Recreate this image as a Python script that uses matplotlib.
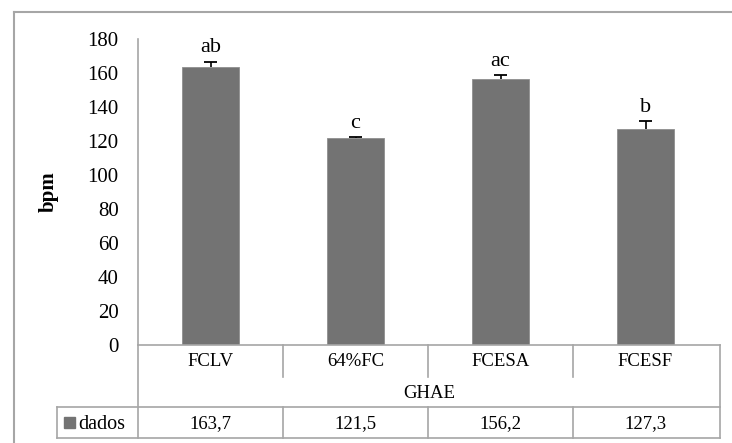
"""Heart rate (bpm) per GHAE condition, bar chart with data table below."""

import matplotlib
matplotlib.use("Agg")
import matplotlib.pyplot as plt
import matplotlib.transforms as mtransforms
from matplotlib.lines import Line2D
from matplotlib.patches import Rectangle

categories = ["FCLV", "64%FC", "FCESA", "FCESF"]
values = [163.7, 121.5, 156.2, 127.3]
errors = [3.0, 1.0, 2.5, 4.3]
letters = ["ab", "c", "ac", "b"]
value_labels = ["163,7", "121,5", "156,2", "127,3"]
group_label = "GHAE"
series_name = "dados"
yticks = list(range(0, 181, 20))

W, H = 732, 443
BAR = "#737373"
GRID = "#a6a6a6"
SERIF = ["Liberation Serif", "DejaVu Serif"]

plt.rcParams["font.family"] = SERIF

fig = plt.figure(figsize=(W / 100, H / 100), dpi=100)


def fx(px):
    return px / W


def fy(py):
    return 1 - py / H


# plot area in pixels: x 138..718, y 39 (180) .. 345 (0)
left, right, top, bottom = 138, 718, 39, 345
ax = fig.add_axes([fx(left), fy(bottom), fx(right - left), (bottom - top) / H])

n = len(categories)
xs = [i + 0.5 for i in range(n)]
ax.bar(xs, values, width=0.39, color=BAR, edgecolor="#8f8f8f", linewidth=0.6, zorder=2)

# upper-only error bars (stem + cap)
tops = [v + e for v, e in zip(values, errors)]
ax.vlines(xs, values, tops, color="black", lw=1.2, zorder=3)
ax.hlines(tops, [x - 0.042 for x in xs], [x + 0.042 for x in xs], color="black", lw=1.3, zorder=3)
for x, t, lab in zip(xs, tops, letters):
    ax.annotate(lab, (x, t), xytext=(0, 3), textcoords="offset points",
                ha="center", va="bottom", fontsize=16, family=SERIF)

ax.set_xlim(0, n)
ax.set_ylim(0, 180)
ax.set_yticks(yticks)
ax.tick_params(axis="y", length=0, pad=14, labelsize=15)
ax.set_xticks([])
for side in ("top", "right", "bottom"):
    ax.spines[side].set_visible(False)
ax.spines["left"].set_color(GRID)
ax.spines["left"].set_linewidth(1.2)
ax.set_ylabel("bpm", fontsize=15, fontweight="bold")
ax.yaxis.set_label_coords((59 - left) / (right - left), 0.5)

# table below the axes: x in data units, y in figure fraction
tr = mtransforms.blended_transform_factory(ax.transData, fig.transFigure)
tbl_right = n + 2 / 145  # table extends slightly past the axes
x_leg = (57 - left) / 145.0
r0, r1, r2, r3 = 345, 377, 407, 438


def hline(x0, x1, py):
    fig.add_artist(Line2D([x0, x1], [fy(py), fy(py)], transform=tr, color=GRID, lw=1.2))


def vline(x, py0, py1):
    fig.add_artist(Line2D([x, x], [fy(py0), fy(py1)], transform=tr, color=GRID, lw=1.2))


hline(0, tbl_right, r0)
hline(x_leg, tbl_right, r2)
hline(x_leg, tbl_right, r3)
vline(0, r0, r3)
vline(tbl_right, r0, r3)
vline(x_leg, r2, r3)
for i in range(1, n):
    vline(i, r0, r1)
    vline(i, r2, r3)

for x, cat, vl in zip(xs, categories, value_labels):
    fig.text(x, fy((r0 + r1) / 2 + 1), cat, transform=tr, ha="center", va="center", fontsize=13.5)
    fig.text(x, fy((r2 + r3) / 2 + 1), vl, transform=tr, ha="center", va="center", fontsize=13.5)
fig.text(tbl_right / 2, fy((r1 + r2) / 2 + 1), group_label, transform=tr,
         ha="center", va="center", fontsize=13.5)

fig.add_artist(Rectangle((fx(64), fy(428)), fx(11), 11 / H, transform=fig.transFigure,
                         color=BAR))
fig.text(fx(78), fy((r2 + r3) / 2 + 2), series_name, ha="left", va="center", fontsize=14.5)

# outer chart border (top and left)
fig.add_artist(Line2D([fx(14), fx(732)], [fy(12), fy(12)], transform=fig.transFigure,
                      color=GRID, lw=1.5))
fig.add_artist(Line2D([fx(14), fx(14)], [fy(12), fy(443)], transform=fig.transFigure,
                      color=GRID, lw=1.5))

fig.savefig("out.png", dpi=100)
